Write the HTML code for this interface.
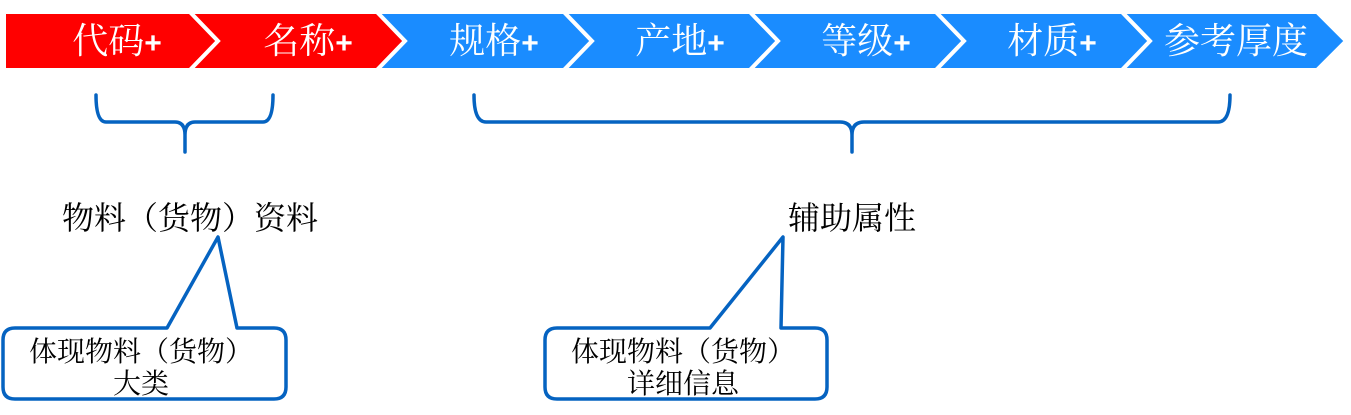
<!DOCTYPE html>
<html><head><meta charset="utf-8"><style>
html,body{margin:0;padding:0;background:#fff;}
svg{display:block;}
text{font-family:"Liberation Serif","Noto Serif CJK SC","Noto Sans CJK SC",serif;}
</style></head><body>
<svg width="1351" height="415" viewBox="0 0 1351 415" xmlns="http://www.w3.org/2000/svg">
<g stroke="#fff" stroke-width="4" stroke-linejoin="miter">
<polygon points="4,12 190,12 218,41 190,70 4,70" fill="#ff0000"/>
<polygon points="190,12 377,12 405,41 377,70 190,70 218,41" fill="#ff0000"/>
<polygon points="377,12 564,12 592,41 564,70 377,70 405,41" fill="#1a8cff"/>
<polygon points="564,12 750,12 778,41 750,70 564,70 592,41" fill="#1a8cff"/>
<polygon points="750,12 936,12 964,41 936,70 750,70 778,41" fill="#1a8cff"/>
<polygon points="936,12 1122,12 1150,41 1122,70 936,70 964,41" fill="#1a8cff"/>
<polygon points="1122,12 1317,12 1346,41 1317,70 1122,70 1150,41" fill="#1a8cff"/>
</g>
<g fill="#fff" font-size="36" text-anchor="middle">
<text x="117" y="53">代码<tspan font-family="Liberation Sans, sans-serif" font-weight="bold" font-size="30">+</tspan></text>
<text x="308" y="53">名称<tspan font-family="Liberation Sans, sans-serif" font-weight="bold" font-size="30">+</tspan></text>
<text x="494" y="53">规格<tspan font-family="Liberation Sans, sans-serif" font-weight="bold" font-size="30">+</tspan></text>
<text x="680" y="53">产地<tspan font-family="Liberation Sans, sans-serif" font-weight="bold" font-size="30">+</tspan></text>
<text x="866" y="53">等级<tspan font-family="Liberation Sans, sans-serif" font-weight="bold" font-size="30">+</tspan></text>
<text x="1052" y="53">材质<tspan font-family="Liberation Sans, sans-serif" font-weight="bold" font-size="30">+</tspan></text>
<text x="1236" y="53">参考厚度</text>
</g>
<g fill="none" stroke="#0563c1" stroke-width="3.5" stroke-linecap="round">
<path d="M96,95 Q96,122 106,122 L175,122 Q185,122 185,135 L185,152 M185,135 Q185,122 195,122 L263,122 Q273,122 273,95"/>
<path d="M474,95 Q474,122 486,122 L840,122 Q852,122 852,135 L852,152 M852,135 Q852,122 864,122 L1218,122 Q1230,122 1230,95"/>
</g>
<g fill="#000" font-size="32" text-anchor="middle">
<text x="190" y="229">物料（货物）资料</text>
<text x="852" y="229">辅助属性</text>
</g>
<g fill="#fff" stroke="#0563c1" stroke-width="3.5" stroke-linejoin="round">
<path d="M15,328 L167,328 L218,237 L237,328 L274,328 Q286,328 286,340 L286,387 Q286,399 274,399 L15,399 Q3,399 3,387 L3,340 Q3,328 15,328 Z"/>
<path d="M557,328 L710,328 L783,237 L781,328 L815,328 Q827,328 827,340 L827,387 Q827,399 815,399 L557,399 Q545,399 545,387 L545,340 Q545,328 557,328 Z"/>
</g>
<g fill="#000" font-size="28" text-anchor="middle">
<text x="141" y="361">体现物料（货物）</text>
<text x="141" y="393">大类</text>
<text x="683" y="361">体现物料（货物）</text>
<text x="683" y="393">详细信息</text>
</g>
</svg>
</body></html>
